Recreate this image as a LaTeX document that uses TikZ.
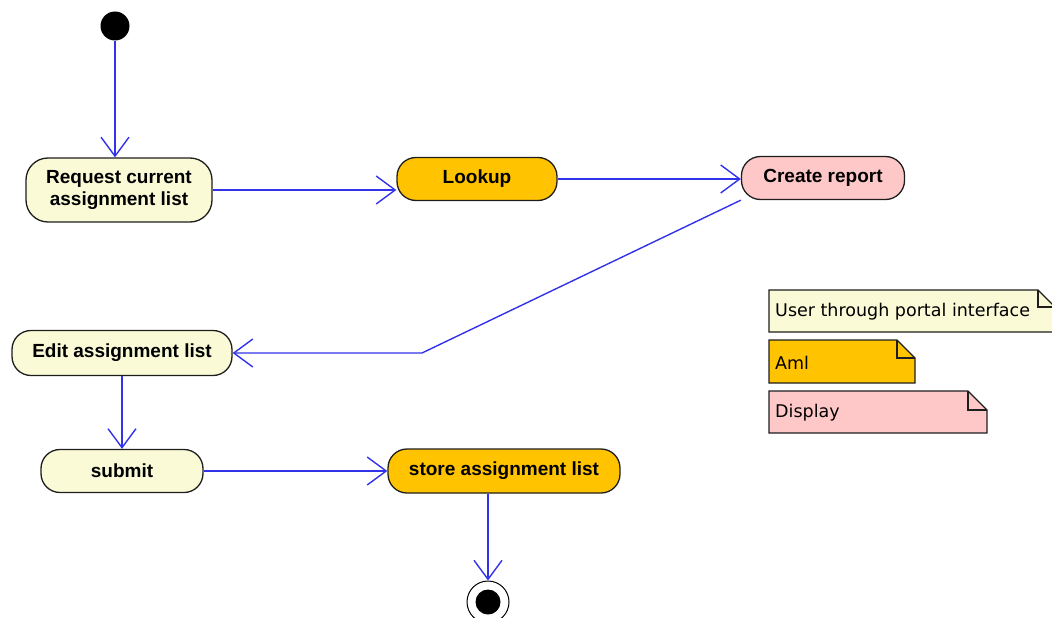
\documentclass[tikz,border=0pt]{standalone}
\usepackage{fontspec}
\setmainfont{Liberation Sans}
\newfontfamily\notefont{DejaVu Sans}
\usetikzlibrary{arrows.meta}

\definecolor{actyellow}{RGB}{250,250,215}
\definecolor{actorange}{RGB}{255,195,0}
\definecolor{actpink}{RGB}{255,200,200}
\definecolor{flowblue}{RGB}{50,50,235}
\definecolor{edgegray}{RGB}{30,30,30}

\begin{document}
\begin{tikzpicture}[x=1pt,y=-1pt,
  action/.style={draw=edgegray, line width=1.3pt, rounded corners=19pt,
    minimum height=43pt, inner sep=0pt, align=center,
    font=\fontsize{19}{22}\selectfont\bfseries},
  flow/.style={draw=flowblue, line width=1.4pt,
    -{Straight Barb[length=19pt,width=28pt]}},
  notebox/.style={draw=edgegray, line width=1.3pt, line join=miter},
  notetext/.style={anchor=west, inner sep=0pt,
    font=\notefont\fontsize{17.5}{20}\selectfont}
]
\useasboundingbox (0,0) rectangle (1052,618);

% initial and final states
\node[circle, fill=black, minimum size=29pt, inner sep=0pt] (start) at (115,26) {};
\node[circle, draw=black, line width=1pt, minimum size=42pt, inner sep=0pt] (final) at (488,602) {};
\node[circle, fill=black, minimum size=25pt, inner sep=0pt] (finalcore) at (final) {};

% actions
\node[action, fill=actyellow, minimum width=186pt, minimum height=64pt, rounded corners=22pt]
  (request) at (119,190) {Request current\\assignment list};
\node[action, fill=actorange, minimum width=160pt] (lookup) at (477,179) {Lookup};
\node[action, fill=actpink, minimum width=163pt] (report) at (823,178) {Create report};
\node[action, fill=actyellow, minimum width=220pt, minimum height=45pt] (edit) at (122,353) {Edit assignment list};
\node[action, fill=actyellow, minimum width=162pt] (submit) at (122,471) {submit};
\node[action, fill=actorange, minimum width=232pt, minimum height=44pt] (store) at (504,471) {store assignment list};

% control flow
\coordinate (bend) at (422,353);
\draw[flow] (start.south) -- (start.south |- request.north);
\draw[flow] (request.east) -- (request.east -| lookup.west);
\draw[flow] (lookup.east) -- (lookup.east -| report.west);
\draw[flow] (report.south west) -- (bend) -- (bend -| edit.east);
\draw[flow] (edit.south) -- (submit.north);
\draw[flow] (submit.east) -- (submit.east -| store.west);
\draw[flow] (final |- store.south) -- (final.north);

% legend notes
\path[notebox, fill=actyellow] (769,290) -- (1038,290) -- (1055,307) -- (1055,332) -- (769,332) -- cycle;
\draw[notebox] (1038,290) -- (1038,307) -- (1055,307);
\node[notetext] (portal) at (775,312) {User through portal interface};

\path[notebox, fill=actorange] (769,340) -- (897,340) -- (915,358) -- (915,383) -- (769,383) -- cycle;
\draw[notebox] (897,340) -- (897,358) -- (915,358);
\node[notetext] (aml) at (775,363) {Aml};

\path[notebox, fill=actpink] (769,391) -- (968,391) -- (987,410) -- (987,433) -- (769,433) -- cycle;
\draw[notebox] (968,391) -- (968,410) -- (987,410);
\node[notetext] (display) at (775,413) {Display};
\end{tikzpicture}
\end{document}
